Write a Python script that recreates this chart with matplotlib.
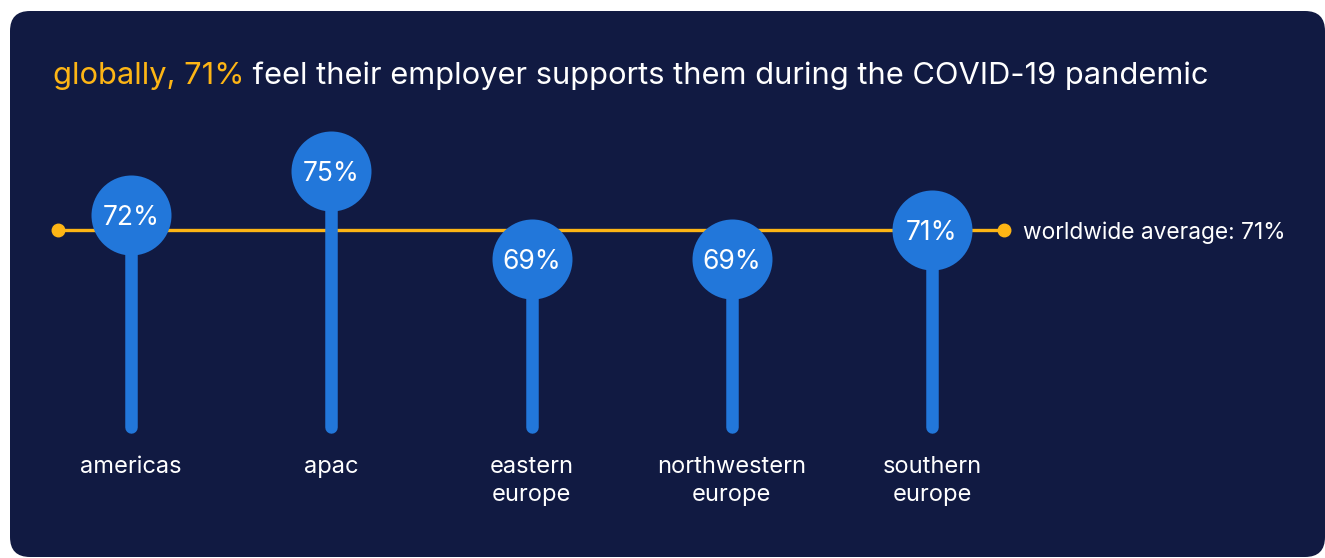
import matplotlib
matplotlib.use("Agg")
import matplotlib.pyplot as plt
from matplotlib.patches import FancyBboxPatch

regions = ["americas", "apac", "eastern\neurope", "northwestern\neurope", "southern\neurope"]
share = [72, 75, 69, 69, 71]
worldwide_avg = 71

NAVY = "#111a42"
BLUE = "#2277da"
GOLD = "#fdb515"
WHITE = "#ffffff"

plt.rcParams["font.family"] = ["Inter", "DejaVu Sans"]

W, H = 1325, 558
fig = plt.figure(figsize=(W / 100, H / 100), dpi=100, facecolor="white")

# card behind everything, drawn in pixel units
bg = fig.add_axes([0, 0, 1, 1])
bg.set_xlim(0, W)
bg.set_ylim(H, 0)
bg.axis("off")
bg.add_patch(FancyBboxPatch((10, 11), 1315, 546,
                            boxstyle="round,pad=0,rounding_size=20",
                            fc=NAVY, ec="none"))

# title in two colours
t1 = bg.text(53, 84, f"globally, {worldwide_avg}%", color=GOLD, fontsize=22.2,
             va="baseline", ha="left")
bg.annotate(" feel their employer supports them during the COVID-19 pandemic",
            xy=(1, 0), xycoords=t1, ha="left", va="bottom",
            color=WHITE, fontsize=22.2)

# chart axes: categories along x, percent along y
ax = fig.add_axes([0, 0, 1, 1])
ax.patch.set_alpha(0)
ax.axis("off")
step = 200.25       # px between categories
ppt = 14.65         # px per percentage point
anchor = 230        # px from top where the average sits
ax.set_xlim(-131 / step, (W - 131) / step)
ax.set_ylim(worldwide_avg - (H - anchor) / ppt, worldwide_avg + anchor / ppt)

x = list(range(len(regions)))
base = worldwide_avg - (427 - anchor) / ppt

# average line
ax.plot([-0.3645, 4.3595], [worldwide_avg, worldwide_avg], color=GOLD, lw=2.4,
        marker="o", ms=9, zorder=2)
ax.text(4.454, worldwide_avg, f"worldwide average: {worldwide_avg}%",
        color=WHITE, fontsize=16.4, ha="left", va="center_baseline")

# lollipops
stems = ax.vlines(x, base, share, color=BLUE, lw=9, zorder=3)
stems.set_capstyle("round")
ax.scatter(x, share, s=(80 * 0.72) ** 2, color=BLUE, linewidths=0, zorder=4)
for xi, v in zip(x, share):
    ax.text(xi, v, f"{v}%", color=WHITE, fontsize=19, ha="center",
            va="center_baseline", zorder=5)

for xi, name in zip(x, regions):
    ax.text(xi, 1 - 456 / H, name, transform=ax.get_xaxis_transform(),
            color=WHITE, fontsize=17, ha="center", va="top", linespacing=1.38)

fig.savefig("out.png", dpi=100, facecolor="white")
